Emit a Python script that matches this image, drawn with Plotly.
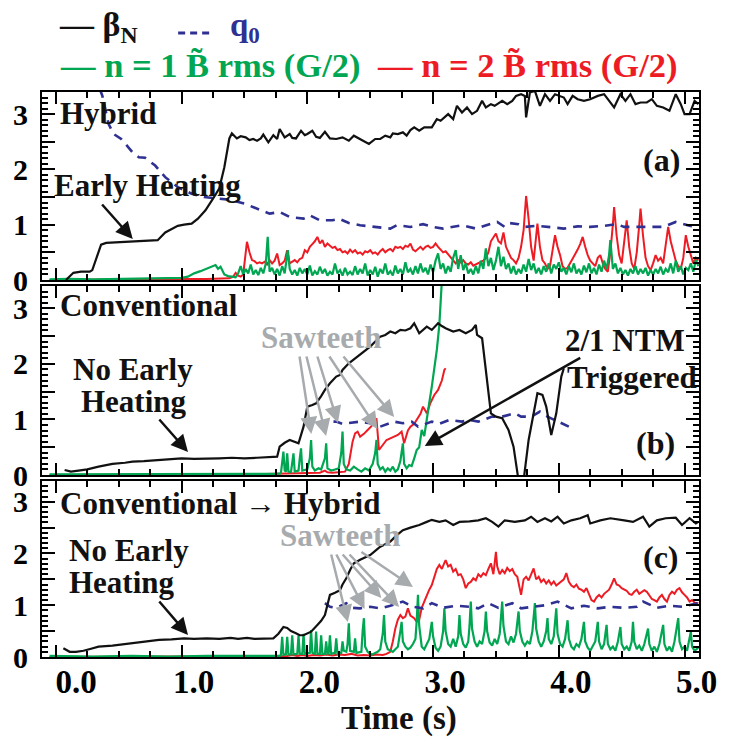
import plotly.graph_objects as go

# ---------------- data (time [s], value) ----------------
# Panel (a) Hybrid
A_BETA = [(0.08,0.00),(0.12,0.08),(0.14,0.13),(0.20,0.15),(0.27,0.15),(0.29,0.18),(0.33,0.45),(0.36,0.64),
          (0.40,0.67),(0.50,0.68),(0.61,0.69),(0.70,0.70),(0.81,0.72),(0.87,0.86),(0.92,0.92),(0.97,0.98),
          (1.02,1.00),(1.08,1.02),(1.13,1.11),(1.19,1.26),(1.25,1.47),(1.30,1.66),(1.34,2.04),(1.38,2.56),
          (1.40,2.65),(1.44,2.56),(1.47,2.60),(1.51,2.58),(1.54,2.53),(1.57,2.55),(1.60,2.52),(1.63,2.56),
          (1.65,2.63),(1.69,2.49),(1.73,2.62),(1.76,2.55),(1.78,2.73),(1.82,2.58),(1.86,2.64),(1.88,2.57),
          (1.91,2.56),(1.95,2.70),(1.98,2.62),(2.00,2.64),(2.04,2.70),(2.07,2.59),(2.10,2.57),(2.14,2.68),
          (2.18,2.56),(2.23,2.55),(2.28,2.58),(2.33,2.52),(2.37,2.61),(2.42,2.55),(2.49,2.46),(2.54,2.55),
          (2.58,2.55),(2.62,2.61),(2.66,2.58),(2.68,2.65),(2.72,2.64),(2.76,2.67),(2.79,2.61),(2.82,2.71),
          (2.85,2.76),(2.89,2.70),(2.93,2.76),(2.99,2.76),(3.03,2.91),(3.06,2.88),(3.12,3.00),(3.16,2.91),
          (3.19,3.15),(3.23,3.03),(3.27,3.12),(3.31,3.00),(3.35,3.06),(3.39,3.24),(3.42,3.12),(3.46,3.18),
          (3.49,3.15),(3.55,3.24),(3.59,3.18),(3.63,3.24),(3.66,3.33),(3.70,3.36),(3.73,3.33),(3.74,2.94),
          (3.77,3.39),(3.81,3.42),(3.85,3.15),(3.89,3.36),(3.93,3.24),(3.97,3.36),(4.00,3.33),(4.04,3.30),
          (4.07,3.18),(4.11,3.33),(4.15,3.27),(4.20,3.24),(4.25,3.27),(4.31,3.33),(4.36,3.36),(4.40,3.24),
          (4.44,3.12),(4.49,3.36),(4.53,3.24),(4.57,3.36),(4.61,3.18),(4.65,3.21),(4.70,3.21),(4.74,3.27),
          (4.78,3.15),(4.83,3.12),(4.88,3.06),(4.93,3.36),(4.97,3.18),(5.00,3.00),(5.04,3.00),(5.08,3.24),
          (5.11,3.18)]
A_Q0 = [(0.35,3.45),(0.37,3.33),(0.42,2.82),(0.46,2.64),(0.52,2.55),(0.61,2.31),(0.66,2.22),(0.71,2.21),
        (0.79,2.07),(0.87,1.86),(0.97,1.68),(1.08,1.56),(1.18,1.50),(1.29,1.47),(1.39,1.45),(1.50,1.38),
        (1.60,1.29),(1.70,1.20),(1.78,1.23),(1.86,1.14),(1.97,1.11),(2.02,1.17),(2.10,1.08),(2.20,1.08),
        (2.25,1.11),(2.33,1.03),(2.42,0.99),(2.53,0.96),(2.66,0.93),(2.71,0.99),(2.82,0.96),(2.92,1.01),
        (3.00,0.96),(3.08,0.93),(3.23,0.99),(3.34,0.93),(3.47,1.02),(3.51,1.05),(3.57,0.96),(3.61,1.03),
        (3.68,1.01),(3.73,0.96),(3.83,0.98),(3.94,0.96),(4.04,0.93),(4.15,0.97),(4.25,0.96),(4.36,0.98),
        (4.46,1.01),(4.52,0.96),(4.62,0.96),(4.73,0.97),(4.83,0.96),(4.93,1.05),(5.04,0.98),(5.11,0.96)]
A_N1 = [(-0.05,0.01),(0.10,0.02),(0.30,0.01),(0.50,0.02),(0.70,0.02),(0.90,0.03),(1.00,0.04),(1.05,0.06),
        (1.10,0.12),(1.15,0.16),(1.20,0.20),(1.24,0.24),(1.27,0.27),(1.29,0.20),(1.31,0.24),(1.34,0.10),
        (1.37,0.07),(1.40,0.06),(1.43,0.05),(1.45,0.12),(1.47,0.25),(1.49,0.10),(1.51,0.20),(1.53,0.12),
        (1.55,0.28),(1.57,0.10),(1.59,0.18),(1.61,0.09),(1.63,0.22),(1.65,0.12),(1.67,0.30),(1.685,0.78),
        (1.70,0.15),(1.72,0.22),(1.74,0.10),(1.76,0.20),(1.78,0.08),(1.80,0.25),(1.82,0.12),(1.845,0.54),
        (1.86,0.20),(1.88,0.10),(1.90,0.18),(1.92,0.08),(1.94,0.22),(1.96,0.12),(1.98,0.20),(2.00,0.10),
        (2.02,0.26),(2.04,0.08),(2.06,0.16),(2.08,0.10),(2.10,0.24),(2.12,0.12),(2.14,0.20),(2.16,0.08),
        (2.18,0.15),(2.20,0.10),(2.22,0.30),(2.24,0.12),(2.26,0.18),(2.28,0.08),(2.30,0.22),(2.32,0.10),
        (2.34,0.15),(2.36,0.09),(2.38,0.25),(2.40,0.10),(2.42,0.20),(2.44,0.12),(2.46,0.30),(2.48,0.08),
        (2.50,0.18),(2.52,0.10),(2.54,0.24),(2.56,0.06),(2.58,0.20),(2.60,0.12),(2.62,0.30),(2.64,0.10),
        (2.66,0.16),(2.68,0.08),(2.70,0.26),(2.72,0.12),(2.74,0.20),(2.76,0.10),(2.78,0.32),(2.80,0.14),
        (2.82,0.20),(2.84,0.10),(2.86,0.25),(2.88,0.12),(2.90,0.30),(2.92,0.14),(2.94,0.22),(2.96,0.10),
        (2.98,0.28),(3.00,0.14),(3.02,0.35),(3.04,0.48),(3.06,0.20),(3.08,0.30),(3.10,0.12),(3.12,0.25),
        (3.14,0.15),(3.16,0.40),(3.18,0.54),(3.20,0.20),(3.22,0.45),(3.24,0.18),(3.26,0.30),(3.28,0.12),
        (3.30,0.20),(3.32,0.10),(3.34,0.25),(3.36,0.12),(3.38,0.35),(3.40,0.20),(3.42,0.57),(3.44,0.25),
        (3.46,0.40),(3.48,0.18),(3.50,0.35),(3.52,0.60),(3.54,0.25),(3.56,0.42),(3.58,0.20),(3.60,0.30),
        (3.62,0.12),(3.64,0.25),(3.66,0.10),(3.68,0.20),(3.70,0.12),(3.72,0.28),(3.74,0.15),(3.76,0.38),
        (3.78,0.18),(3.80,0.30),(3.82,0.12),(3.84,0.22),(3.86,0.10),(3.88,0.25),(3.90,0.15),(3.92,0.30),
        (3.94,0.12),(3.96,0.28),(3.98,0.20),(4.00,0.32),(4.02,0.15),(4.04,0.22),(4.06,0.10),(4.08,0.25),
        (4.10,0.14),(4.12,0.30),(4.14,0.12),(4.16,0.20),(4.18,0.10),(4.20,0.26),(4.22,0.14),(4.24,0.30),
        (4.26,0.12),(4.28,0.22),(4.30,0.10),(4.32,0.28),(4.34,0.15),(4.36,0.35),(4.38,0.20),(4.40,0.45),
        (4.41,0.72),(4.43,0.20),(4.45,0.30),(4.47,0.12),(4.49,0.22),(4.51,0.10),(4.53,0.18),(4.55,0.08),
        (4.57,0.20),(4.59,0.12),(4.61,0.25),(4.63,0.10),(4.65,0.20),(4.67,0.12),(4.69,0.22),(4.71,0.08),
        (4.73,0.18),(4.75,0.10),(4.77,0.20),(4.79,0.12),(4.81,0.24),(4.83,0.10),(4.85,0.20),(4.87,0.14),
        (4.89,0.30),(4.91,0.12),(4.93,0.35),(4.95,0.15),(4.97,0.25),(4.99,0.10),(5.01,0.22),(5.03,0.18),
        (5.05,0.30),(5.07,0.15),(5.09,0.36),(5.11,0.25)]
A_N2 = [(-0.05,0.00),(0.30,0.01),(0.60,0.01),(0.90,0.02),(1.20,0.02),(1.38,0.03),(1.41,0.06),(1.43,0.13),
        (1.45,0.08),(1.47,0.06),(1.49,0.10),(1.51,0.45),(1.52,0.69),(1.54,0.50),(1.56,0.36),(1.58,0.34),
        (1.60,0.30),(1.62,0.32),(1.64,0.30),(1.66,0.33),(1.68,0.28),(1.70,0.36),(1.72,0.30),(1.74,0.35),
        (1.76,0.48),(1.78,0.27),(1.80,0.30),(1.82,0.35),(1.84,0.54),(1.86,0.30),(1.88,0.33),(1.90,0.36),
        (1.92,0.32),(1.94,0.38),(1.96,0.40),(1.98,0.54),(2.00,0.50),(2.02,0.60),(2.04,0.65),(2.06,0.70),
        (2.08,0.78),(2.10,0.66),(2.12,0.72),(2.14,0.60),(2.16,0.66),(2.18,0.62),(2.20,0.58),(2.22,0.60),
        (2.24,0.54),(2.26,0.56),(2.28,0.50),(2.30,0.52),(2.32,0.48),(2.34,0.55),(2.36,0.50),(2.38,0.54),
        (2.40,0.48),(2.42,0.50),(2.44,0.46),(2.46,0.52),(2.48,0.50),(2.50,0.54),(2.52,0.48),(2.54,0.50),
        (2.56,0.46),(2.58,0.52),(2.60,0.56),(2.62,0.50),(2.64,0.54),(2.66,0.56),(2.68,0.52),(2.70,0.60),
        (2.72,0.58),(2.74,0.60),(2.76,0.56),(2.78,0.62),(2.80,0.60),(2.82,0.66),(2.84,0.55),(2.86,0.52),
        (2.88,0.56),(2.90,0.60),(2.92,0.55),(2.94,0.60),(2.96,0.62),(2.98,0.58),(3.00,0.60),(3.02,0.66),
        (3.04,0.60),(3.06,0.55),(3.08,0.50),(3.10,0.52),(3.12,0.46),(3.14,0.40),(3.16,0.34),(3.18,0.30),
        (3.20,0.36),(3.22,0.32),(3.24,0.36),(3.26,0.30),(3.28,0.28),(3.30,0.32),(3.32,0.26),(3.34,0.28),
        (3.36,0.30),(3.38,0.32),(3.40,0.35),(3.42,0.40),(3.44,0.50),(3.46,0.70),(3.48,0.78),(3.50,0.84),
        (3.52,0.70),(3.54,0.66),(3.56,0.86),(3.58,0.60),(3.60,0.50),(3.62,0.40),(3.64,0.36),(3.66,0.30),
        (3.68,0.40),(3.70,0.60),(3.72,0.90),(3.74,1.52),(3.76,1.10),(3.78,0.60),(3.80,0.35),(3.82,0.80),
        (3.83,1.02),(3.85,0.60),(3.87,0.36),(3.89,0.30),(3.91,0.20),(3.93,0.25),(3.95,0.50),(3.97,0.81),
        (3.99,0.60),(4.01,0.45),(4.03,0.25),(4.05,0.20),(4.07,0.22),(4.09,0.30),(4.11,0.40),(4.13,0.48),
        (4.15,0.55),(4.17,0.65),(4.19,0.78),(4.21,0.60),(4.23,0.45),(4.25,0.35),(4.27,0.30),(4.29,0.25),
        (4.31,0.40),(4.33,0.45),(4.35,0.30),(4.37,0.20),(4.39,0.15),(4.41,0.50),(4.43,1.00),(4.44,1.32),
        (4.46,0.80),(4.48,0.45),(4.50,0.30),(4.52,0.70),(4.54,1.08),(4.56,0.60),(4.58,0.30),(4.60,0.20),
        (4.62,0.50),(4.64,1.00),(4.65,1.29),(4.67,0.80),(4.69,0.40),(4.71,0.25),(4.73,0.18),(4.75,0.30),
        (4.77,0.45),(4.79,0.35),(4.81,0.40),(4.83,0.30),(4.85,0.60),(4.87,0.96),(4.89,0.70),(4.91,0.50),
        (4.93,0.35),(4.95,0.25),(4.97,0.20),(4.99,0.40),(5.01,0.81),(5.03,0.60),(5.05,0.45),(5.07,0.30),
        (5.09,0.40),(5.11,0.35)]

# Panel (b) Conventional
B_BETA = [(0.07,0.09),(0.12,0.06),(0.18,0.08),(0.25,0.10),(0.34,0.15),(0.45,0.20),(0.55,0.22),(0.61,0.24),
          (0.70,0.25),(0.82,0.27),(0.90,0.28),(1.00,0.30),(1.10,0.29),(1.20,0.29),(1.30,0.30),(1.40,0.31),
          (1.50,0.30),(1.60,0.31),(1.70,0.32),(1.76,0.33),(1.78,0.51),(1.82,0.58),(1.86,0.63),(1.90,0.60),
          (1.93,0.57),(1.97,0.87),(2.00,1.23),(2.04,1.26),(2.07,1.29),(2.11,1.42),(2.14,1.53),(2.18,1.65),
          (2.23,1.77),(2.26,1.80),(2.28,1.89),(2.33,2.01),(2.38,2.10),(2.42,2.16),(2.50,2.31),(2.58,2.49),
          (2.62,2.52),(2.66,2.58),(2.70,2.55),(2.74,2.61),(2.78,2.60),(2.82,2.64),(2.85,2.73),(2.89,2.55),
          (2.95,2.67),(2.99,2.61),(3.04,2.73),(3.07,2.68),(3.10,2.64),(3.16,2.58),(3.21,2.61),(3.26,2.55),
          (3.31,2.61),(3.34,2.70),(3.35,2.52),(3.39,2.46),(3.43,1.71),(3.46,1.11),(3.50,1.05),(3.55,1.02),
          (3.60,0.81),(3.64,0.51),(3.68,-0.10),(3.72,-0.10),(3.76,0.63),(3.83,1.47),(3.87,1.44),(3.90,1.23),
          (3.94,0.72),(3.98,1.11),(4.02,1.77),(4.04,1.92)]
B_Q0 = [(1.97,0.99),(2.00,0.96),(2.03,0.90),(2.06,0.93),(2.18,0.96),(2.23,0.96),(2.28,0.92),(2.33,0.93),
        (2.42,0.96),(2.50,0.93),(2.58,0.87),(2.69,0.96),(2.76,0.93),(2.83,0.96),(2.88,0.87),(2.99,0.96),
        (3.05,0.92),(3.13,0.99),(3.23,0.96),(3.29,0.99),(3.36,0.96),(3.47,1.05),(3.55,1.05),(3.65,1.11),
        (3.70,1.05),(3.78,1.05),(3.85,1.14),(3.91,1.05),(3.99,0.96),(4.08,0.87)]
B_N1 = [(-0.05,0.01),(0.30,0.01),(0.60,0.02),(0.90,0.01),(1.20,0.02),(1.50,0.02),(1.76,0.02),(1.79,0.03),
        (1.80,0.30),(1.81,0.42),(1.82,0.08),(1.83,0.06),(1.84,0.39),(1.85,0.06),(1.87,0.05),(1.88,0.20),
        (1.89,0.39),(1.90,0.06),(1.93,0.08),(1.94,0.30),(1.95,0.48),(1.96,0.08),(2.00,0.10),(2.02,0.30),
        (2.03,0.63),(2.04,0.15),(2.06,0.08),(2.09,0.12),(2.11,0.10),(2.14,0.30),(2.15,0.57),(2.16,0.12),
        (2.19,0.08),(2.22,0.10),(2.25,0.12),(2.27,0.40),(2.28,0.78),(2.29,0.20),(2.31,0.10),(2.34,0.08),
        (2.37,0.15),(2.40,0.10),(2.43,0.06),(2.46,0.12),(2.49,0.08),(2.52,0.20),(2.54,0.40),(2.55,0.63),
        (2.56,0.20),(2.58,0.10),(2.60,0.14),(2.62,0.06),(2.64,0.12),(2.66,0.08),(2.68,0.15),(2.70,0.06),
        (2.72,0.10),(2.74,0.25),(2.76,0.57),(2.77,0.20),(2.79,0.12),(2.81,0.18),(2.83,0.16),(2.85,0.30),
        (2.87,0.45),(2.89,0.50),(2.91,0.81),(2.93,0.70),(2.95,1.05),(2.97,1.30),(2.99,1.59),(3.01,1.90),
        (3.03,2.25),(3.05,2.70),(3.06,3.00),(3.07,3.50)]
B_N2 = [(-0.05,0.00),(0.50,0.01),(1.00,0.01),(1.50,0.01),(1.80,0.02),(2.00,0.03),(2.10,0.04),(2.14,0.08),
        (2.16,0.05),(2.20,0.04),(2.28,0.05),(2.30,0.06),(2.33,0.20),(2.36,0.60),(2.38,0.75),(2.40,0.78),
        (2.42,0.69),(2.45,0.74),(2.48,0.81),(2.51,0.88),(2.54,0.99),(2.55,1.02),(2.57,0.45),(2.60,0.55),
        (2.63,0.63),(2.66,0.66),(2.69,0.69),(2.72,0.72),(2.75,0.78),(2.77,0.57),(2.80,0.80),(2.82,0.87),
        (2.85,0.92),(2.87,0.99),(2.90,1.10),(2.92,1.23),(2.95,1.11),(2.98,1.30),(3.01,1.44),(3.04,1.53),
        (3.07,1.70),(3.09,1.89),(3.10,1.92)]

# Panel (c) Conventional -> Hybrid
C_BETA = [(0.06,0.17),(0.09,0.12),(0.11,0.10),(0.16,0.10),(0.22,0.12),(0.28,0.16),(0.34,0.20),(0.45,0.22),
          (0.52,0.24),(0.61,0.26),(0.70,0.30),(0.82,0.33),(0.92,0.34),(1.02,0.36),(1.10,0.35),(1.20,0.36),
          (1.30,0.35),(1.39,0.37),(1.45,0.35),(1.52,0.37),(1.58,0.35),(1.66,0.36),(1.73,0.36),(1.77,0.45),
          (1.81,0.58),(1.84,0.56),(1.87,0.50),(1.91,0.46),(1.94,0.42),(1.97,0.42),(2.00,0.45),(2.03,0.49),
          (2.08,0.62),(2.11,0.70),(2.14,0.81),(2.16,1.00),(2.18,1.20),(2.22,1.24),(2.26,1.29),(2.28,1.40),
          (2.31,1.52),(2.34,1.68),(2.37,1.81),(2.42,1.88),(2.46,1.92),(2.50,1.97),(2.54,2.05),(2.58,2.13),
          (2.62,2.18),(2.66,2.23),(2.71,2.35),(2.76,2.45),(2.82,2.50),(2.89,2.55),(2.95,2.61),(2.99,2.65),
          (3.05,2.61),(3.10,2.64),(3.16,2.55),(3.21,2.61),(3.29,2.62),(3.36,2.64),(3.42,2.68),(3.47,2.61),
          (3.52,2.52),(3.57,2.64),(3.65,2.61),(3.73,2.64),(3.78,2.71),(3.83,2.61),(3.89,2.68),(3.94,2.62),
          (3.99,2.71),(4.04,2.58),(4.10,2.64),(4.17,2.68),(4.23,2.74),(4.25,2.58),(4.33,2.64),(4.41,2.68),
          (4.52,2.64),(4.59,2.61),(4.67,2.71),(4.72,2.52),(4.78,2.64),(4.85,2.68),(4.93,2.69),(4.98,2.55),
          (5.04,2.68),(5.09,2.58),(5.11,2.61)]
C_Q0 = [(2.14,1.04),(2.18,0.97),(2.23,0.95),(2.31,1.04),(2.36,0.95),(2.42,0.94),(2.50,0.97),(2.58,0.94),
        (2.66,0.99),(2.76,1.07),(2.84,0.97),(2.92,0.94),(2.99,1.04),(3.08,0.95),(3.18,0.99),(3.29,0.97),
        (3.36,0.94),(3.44,1.04),(3.52,0.95),(3.63,1.04),(3.70,0.94),(3.81,0.97),(3.89,1.00),(3.99,1.07),
        (4.10,0.94),(4.20,0.99),(4.31,0.94),(4.41,0.97),(4.52,0.95),(4.62,0.97),(4.67,1.07),(4.78,0.95),
        (4.88,0.99),(4.98,0.97),(5.11,1.04)]
C_N1 = [(-0.05,0.02),(0.30,0.01),(0.60,0.02),(0.90,0.01),(1.20,0.02),(1.50,0.02),(1.78,0.02),(1.79,0.04),
        (1.80,0.39),(1.81,0.04),(1.83,0.05),(1.84,0.39),(1.85,0.05),(1.87,0.05),(1.88,0.42),(1.89,0.05),
        (1.92,0.06),(1.93,0.42),(1.94,0.06),(1.96,0.06),(1.97,0.45),(1.98,0.06),(2.02,0.08),(2.03,0.52),
        (2.04,0.08),(2.06,0.06),(2.07,0.49),(2.08,0.06),(2.10,0.06),(2.11,0.42),(2.12,0.06),(2.14,0.06),
        (2.15,0.30),(2.16,0.06),(2.17,0.07),(2.18,0.42),(2.19,0.06),(2.22,0.08),(2.23,0.36),(2.24,0.06),
        (2.27,0.08),(2.28,0.30),(2.29,0.12),(2.31,0.10),(2.32,0.25),(2.33,0.65),(2.34,0.12),(2.37,0.10),
        (2.38,0.36),(2.39,0.08),(2.43,0.10),(2.44,0.50),(2.45,0.75),(2.46,0.20),(2.48,0.10),(2.50,0.06),
        (2.52,0.05),(2.54,0.08),(2.56,0.10),(2.58,0.15),(2.60,0.45),(2.61,0.81),(2.62,0.30),(2.64,0.15),
        (2.66,0.12),(2.68,0.10),(2.70,0.15),(2.72,0.20),(2.74,0.50),(2.75,0.68),(2.76,0.30),(2.78,0.20),
        (2.80,0.15),(2.82,0.18),(2.84,0.25),(2.86,0.35),(2.87,0.70),(2.88,1.20),(2.89,0.60),(2.91,0.20),
        (2.93,0.15),(2.95,0.25),(2.97,0.35),(2.99,0.68),(3.00,0.40),(3.02,0.18),(3.04,0.12),(3.06,0.20),
        (3.08,0.50),(3.09,0.94),(3.10,0.50),(3.12,0.25),(3.14,0.20),(3.16,0.35),(3.18,0.20),(3.20,0.40),
        (3.21,0.81),(3.22,0.45),(3.24,0.25),(3.26,0.18),(3.28,0.30),(3.29,0.60),(3.30,1.07),(3.31,0.55),
        (3.33,0.30),(3.35,0.20),(3.37,0.30),(3.39,0.25),(3.41,0.50),(3.42,0.88),(3.43,0.50),(3.45,0.28),
        (3.47,0.22),(3.49,0.35),(3.51,0.25),(3.53,0.45),(3.55,1.07),(3.56,0.60),(3.58,0.30),(3.60,0.25),
        (3.62,0.40),(3.64,0.28),(3.66,0.45),(3.68,0.88),(3.69,0.50),(3.71,0.30),(3.73,0.22),(3.75,0.30),
        (3.77,0.25),(3.79,0.50),(3.81,1.04),(3.82,0.55),(3.84,0.30),(3.86,0.20),(3.88,0.30),(3.90,0.50),
        (3.91,0.75),(3.92,0.35),(3.94,0.25),(3.96,0.40),(3.98,0.94),(3.99,0.45),(4.01,0.25),(4.03,0.20),
        (4.05,0.35),(4.07,0.71),(4.08,0.35),(4.10,0.20),(4.12,0.15),(4.14,0.25),(4.16,0.20),(4.18,0.35),
        (4.20,0.68),(4.21,0.30),(4.23,0.18),(4.25,0.12),(4.27,0.22),(4.29,0.30),(4.31,0.68),(4.32,0.30),
        (4.34,0.15),(4.36,0.25),(4.38,0.62),(4.39,0.25),(4.41,0.15),(4.43,0.20),(4.45,0.12),(4.47,0.30),
        (4.49,0.58),(4.50,0.25),(4.52,0.15),(4.54,0.20),(4.56,0.12),(4.58,0.30),(4.59,0.68),(4.60,0.30),
        (4.62,0.15),(4.64,0.22),(4.66,0.12),(4.68,0.25),(4.71,0.55),(4.72,0.25),(4.74,0.12),(4.76,0.20),
        (4.78,0.10),(4.80,0.25),(4.83,0.62),(4.84,0.25),(4.86,0.12),(4.88,0.20),(4.90,0.10),(4.92,0.30),
        (4.95,0.75),(4.96,0.30),(4.98,0.15),(5.00,0.20),(5.02,0.12),(5.05,0.49),(5.06,0.20),(5.08,0.12),
        (5.11,0.18)]
C_N2 = [(-0.05,0.00),(0.50,0.01),(1.00,0.01),(1.50,0.01),(1.75,0.02),(1.80,0.03),(1.84,0.02),(1.88,0.04),
        (1.92,0.02),(1.96,0.04),(2.00,0.02),(2.05,0.04),(2.10,0.03),(2.15,0.05),(2.20,0.03),(2.25,0.05),
        (2.30,0.04),(2.35,0.06),(2.40,0.03),(2.45,0.04),(2.50,0.03),(2.55,0.05),(2.60,0.04),(2.63,0.06),
        (2.66,0.10),(2.68,0.30),(2.70,0.55),(2.72,0.72),(2.74,0.81),(2.76,0.75),(2.78,0.78),(2.80,0.94),
        (2.82,0.80),(2.85,0.75),(2.87,0.68),(2.89,0.72),(2.91,0.95),(2.93,1.07),(2.95,1.20),(2.97,1.30),
        (2.99,1.39),(3.01,1.55),(3.03,1.70),(3.05,1.78),(3.07,1.70),(3.09,1.82),(3.10,1.87),(3.12,1.75),
        (3.14,1.78),(3.16,1.65),(3.18,1.70),(3.20,1.58),(3.22,1.60),(3.24,1.50),(3.26,1.33),(3.28,1.42),
        (3.30,1.45),(3.32,1.52),(3.34,1.48),(3.36,1.60),(3.38,1.55),(3.40,1.62),(3.42,1.58),(3.44,1.70),
        (3.46,1.81),(3.48,1.60),(3.50,2.03),(3.51,1.75),(3.53,1.60),(3.55,1.68),(3.57,1.62),(3.59,1.72),
        (3.61,1.66),(3.63,1.70),(3.65,1.60),(3.67,1.55),(3.69,1.35),(3.70,1.20),(3.72,1.50),(3.74,1.55),
        (3.76,1.48),(3.78,1.60),(3.80,1.71),(3.82,1.50),(3.84,1.55),(3.86,1.45),(3.88,1.50),(3.90,1.42),
        (3.92,1.48),(3.94,1.40),(3.96,1.46),(3.98,1.38),(4.00,1.42),(4.02,1.45),(4.04,1.50),(4.06,1.62),
        (4.08,1.45),(4.10,1.38),(4.12,1.35),(4.14,1.40),(4.16,1.32),(4.18,1.30),(4.20,1.26),(4.22,1.33),
        (4.24,1.20),(4.26,1.10),(4.28,1.07),(4.30,1.15),(4.32,1.20),(4.34,1.15),(4.36,1.22),(4.38,1.26),
        (4.40,1.30),(4.42,1.40),(4.44,1.52),(4.46,1.40),(4.48,1.38),(4.50,1.33),(4.52,1.30),(4.54,1.28),
        (4.56,1.22),(4.58,1.20),(4.60,1.26),(4.62,1.30),(4.64,1.22),(4.66,1.26),(4.68,1.29),(4.70,1.26),
        (4.72,1.18),(4.74,1.12),(4.76,1.10),(4.78,1.07),(4.80,1.15),(4.82,1.20),(4.84,1.12),(4.86,1.07),
        (4.88,1.20),(4.90,1.26),(4.92,1.22),(4.94,1.30),(4.96,1.33),(4.98,1.25),(5.00,1.20),(5.02,1.15),
        (5.04,1.07),(5.06,1.10),(5.08,1.05),(5.11,1.04)]

X_TICKS = [0, 1, 2, 3, 4, 5]
X_LABELS = ["\u00a0\u00a00.0", "1.0", "2.0", "3.0", "4.0", "5.0"]
Y_TICKS = [0, 0.5, 1, 1.5, 2, 2.5, 3]
Y_LABELS = ["0", " ", "1", " ", "2", " ", "3"]

# ---------------- styling ----------------
FONT = "Liberation Serif"
BLACK = "#111111"
NAVY = "#2e3192"
GREEN = "#00a651"
RED = "#ed1c24"
GRAY = "#a7abae"

W, H = 729, 738
L, R, T, B = 42, 21, 92, 81
PW, PH = W - L - R, H - T - B
X_RANGE = [-0.11, 5.115]
Y_RANGE = [0, 3.4]


def PX(px):
    return (px - L) / PW


def PY(py):
    return (H - B - py) / PH


def split(pairs):
    return [p[0] for p in pairs], [p[1] for p in pairs]


fig = go.Figure()
panels = [("x", "y", A_BETA, A_Q0, A_N1, A_N2),
          ("x2", "y2", B_BETA, B_Q0, B_N1, B_N2),
          ("x3", "y3", C_BETA, C_Q0, C_N1, C_N2)]
for xa, ya, beta, q0, n1, n2 in panels:
    for data, color, width, dash in [(n2, RED, 2, "solid"), (n1, GREEN, 2.2, "solid"),
                                     (q0, NAVY, 2.6, "9px,7px"), (beta, BLACK, 2.2, "solid")]:
        tx, ty = split(data)
        fig.add_trace(go.Scatter(x=tx, y=ty, mode="lines", xaxis=xa, yaxis=ya,
                                 line=dict(color=color, width=width, dash=dash),
                                 showlegend=False, hoverinfo="skip"))

try:
    go.layout.XAxis(ticklabelstandoff=-6)
    X_STANDOFF = -6
except Exception:
    X_STANDOFF = 0


def xaxis(anchor, labels):
    return dict(anchor=anchor, domain=[0, 1], range=X_RANGE, showline=True, linewidth=2,
                linecolor="black", mirror="ticks", ticks="inside", ticklen=12, tickwidth=2,
                tickcolor="black", tickmode="array", tickvals=X_TICKS, ticktext=X_LABELS,
                showticklabels=labels, ticklabelshift=12, ticklabelstandoff=X_STANDOFF,
                minor=dict(ticks="inside", ticklen=6, tickwidth=1.5, tickcolor="black",
                           dtick=0.25, tick0=0),
                showgrid=False, zeroline=False,
                tickfont=dict(family=FONT, size=33, color="black", weight="bold"))


def yaxis(anchor, dom):
    return dict(anchor=anchor, domain=dom, range=Y_RANGE, showline=True, linewidth=2,
                linecolor="black", mirror="ticks", ticks="inside", ticklen=13, tickwidth=2,
                tickcolor="black", tickmode="array", tickvals=Y_TICKS, ticktext=Y_LABELS,
                minor=dict(ticks="inside", ticklen=6, tickwidth=1.5, tickcolor="black",
                           dtick=0.1, tick0=0),
                ticklabelstandoff=6, showgrid=False, zeroline=False,
                tickfont=dict(family=FONT, size=30, color="black", weight="bold"))


dom_a = [PY(280), 1.0]
dom_b = [PY(475), PY(286)]
dom_c = [0.0, PY(481)]

anns = []


def text(s, px, py, size=31, color=BLACK, anchor="left"):
    anns.append(dict(text=s, x=PX(px), y=PY(py), xref="paper", yref="paper", showarrow=False,
                     xanchor=anchor, yanchor="middle",
                     font=dict(family=FONT, size=size, color=color, weight="bold")))


def arrow(tail, head, color=BLACK, width=2.5, size=1.35):
    anns.append(dict(text="", x=PX(head[0]), y=PY(head[1]), xref="paper", yref="paper",
                     ax=tail[0] - head[0], ay=tail[1] - head[1], axref="pixel", ayref="pixel",
                     showarrow=True, arrowhead=2, arrowsize=size, arrowwidth=width,
                     arrowcolor=color, standoff=0, startstandoff=0))


# legend (top)
text("— β<sub>N</sub>", 57, 27, size=34)
text("q<sub>0</sub>", 231, 27, size=33, color=NAVY)
text("— n = 1 B\u0303 rms (G/2)", 58, 66, size=34.5, color=GREEN)
text("— n = 2 B\u0303 rms (G/2)", 380, 66, size=34.5, color=RED)

# panel (a)
text("Hybrid", 58, 113)
text("Early Heating", 52, 185)
arrow((102, 203), (134, 239))
text("(a)", 649, 160, size=32)

# panel (b)
text("Conventional", 58, 305)
text("No Early", 71, 369)
text("Heating", 80, 401)
arrow((160, 418), (190, 452))
text("Sawteeth", 262, 337, color=GRAY)
for tail, head in [((303, 355), (315, 434)), ((310, 355), (330, 436)), ((321, 355), (342, 423)),
                   ((333, 355), (382, 429)), ((347, 355), (399, 417))]:
    arrow(tail, head, color=GRAY, width=2.5)
text("2/1 NTM", 570, 340)
text("Triggered", 572, 377)
arrow((587, 357), (430, 446))
text("(b)", 642, 443, size=32)

# panel (c)
text("Conventional \u2192 Hybrid", 58, 503)
text("No Early", 67, 550)
text("Heating", 67, 582)
arrow((160, 600), (190, 635))
text("Sawteeth", 281, 535, color=GRAY)
for tail, head in [((335, 553), (352, 622)), ((340, 553), (369, 609)), ((346, 553), (386, 598)),
                   ((353, 553), (404, 607)), ((365, 551), (418, 587))]:
    arrow(tail, head, color=GRAY, width=2.5)
text("(c)", 649, 557, size=32)

# x title
text("Time (s)", 404, 718, size=33, anchor="center")

shapes = [dict(type="line", xref="paper", yref="paper", x0=PX(180), x1=PX(216), y0=PY(33), y1=PY(33),
               line=dict(color=NAVY, width=3, dash="7px,5px"))]

fig.update_layout(
    width=W, height=H, margin=dict(l=L, r=R, t=T, b=B),
    paper_bgcolor="white", plot_bgcolor="white",
    xaxis=xaxis("y", False), xaxis2=xaxis("y2", False), xaxis3=xaxis("y3", True),
    yaxis=yaxis("x", dom_a), yaxis2=yaxis("x2", dom_b), yaxis3=yaxis("x3", dom_c),
    annotations=anns, shapes=shapes, showlegend=False,
    font=dict(family=FONT, color="black"),
)

fig.write_html("out.html")
